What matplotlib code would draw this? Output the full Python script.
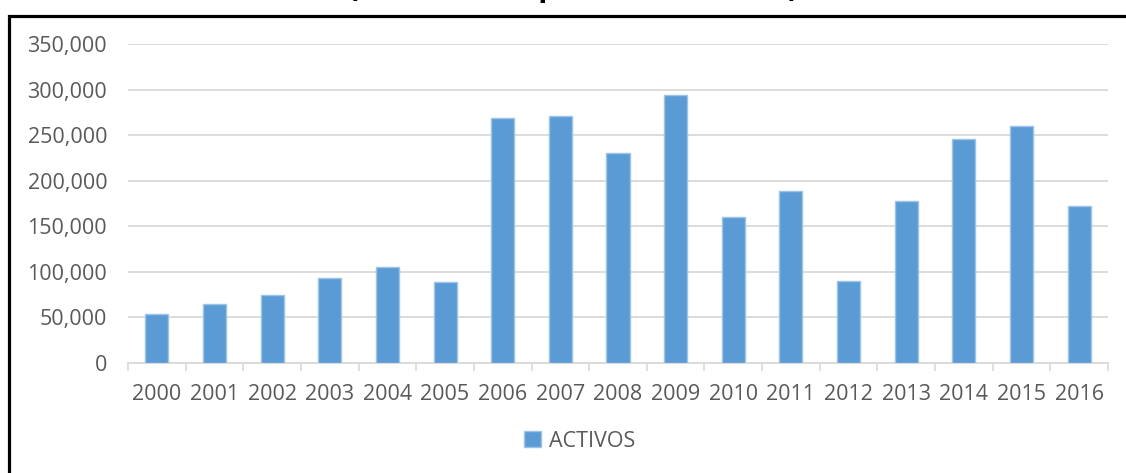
import matplotlib
matplotlib.use('Agg')
import matplotlib.pyplot as plt
import matplotlib.patches as patches
from matplotlib.ticker import FuncFormatter, FixedLocator

years = [str(y) for y in range(2000, 2017)]
activos = [54000, 65000, 74500, 93500, 105500, 89000, 269000, 271000, 230500,
           293500, 160000, 188500, 90000, 177500, 245500, 260000, 172500]
title_text = "(En miles de pesos corrientes)"
series_name = "ACTIVOS"

plt.rcParams['font.family'] = ['Open Sans', 'DejaVu Sans']

fig = plt.figure(figsize=(11.26, 4.73), dpi=100)
ax = fig.add_axes([128/1126, 1 - 363/473, (1108 - 128)/1126, (363 - 44)/473])

x = list(range(len(years)))
ax.bar(x, activos, width=0.4, color='#5B9BD5', edgecolor='#9DC3E6',
       linewidth=1, label=series_name, zorder=3)

ax.set_xlim(-0.5, len(years) - 0.5)
ax.set_ylim(0, 350000)
ax.set_yticks(range(0, 350001, 50000))
ax.yaxis.set_major_formatter(FuncFormatter(lambda v, p: f"{int(v):,}"))
ax.grid(axis='y', color='#D9D9D9', linewidth=1.3, zorder=0)

ax.set_xticks(x)
ax.set_xticklabels(years)
ax.xaxis.set_minor_locator(FixedLocator([i - 0.5 for i in range(len(years) + 1)]))
ax.tick_params(axis='x', which='major', length=0, pad=15, labelsize=15.5, labelcolor='#595959')
ax.tick_params(axis='x', which='minor', length=6, width=1.2, color='#D9D9D9', direction='out')
ax.tick_params(axis='y', length=0, pad=15, labelsize=15.5, labelcolor='#595959')

for side in ['top', 'right', 'left']:
    ax.spines[side].set_visible(False)
ax.spines['bottom'].set_color('#D9D9D9')
ax.spines['bottom'].set_linewidth(1.3)

# chart frame, cropped on the right and bottom
frame = patches.Rectangle((9/1126, -0.2), 1.2, 1 - 15.5/473 + 0.2,
                          transform=fig.transFigure, fill=False,
                          edgecolor='black', linewidth=2.3, clip_on=False)
fig.patches.append(frame)

# title, only its lower edge is in view
fig.text(573/1126, 1 + 4/473, title_text, ha='center', va='baseline',
         fontsize=22, fontweight='bold', color='black')

fig.legend(loc='center', bbox_to_anchor=(580/1126, 1 - 441/473), frameon=False,
           handlelength=0.75, handleheight=0.75, handletextpad=0.4,
           prop={'size': 15.5}, labelcolor='#595959')

fig.savefig('out.png', dpi=100)
